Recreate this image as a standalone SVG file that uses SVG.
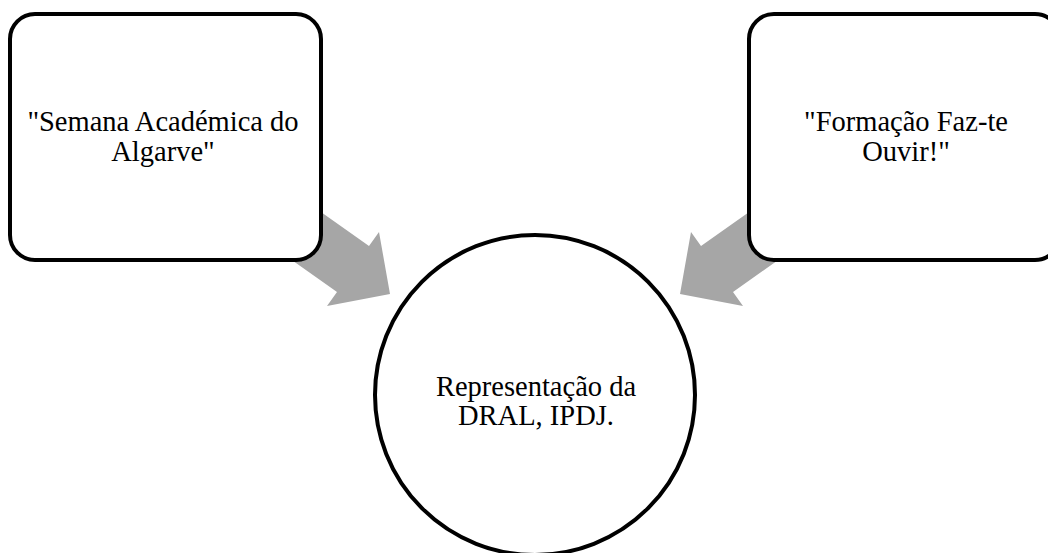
<svg xmlns="http://www.w3.org/2000/svg" width="1048" height="553" viewBox="0 0 1048 553">
<style>
.box{fill:#fff;stroke:#000;stroke-width:4}
.arrow{fill:#a6a6a6;stroke:none}
.lbl{font-size:28.5px;fill:#000;text-anchor:middle}
</style>
<rect width="1048" height="553" fill="#fff"/>
<g id="connectors">
<polygon id="arrow-left" class="arrow" points="287,188 369,246 379,232 390,294 327,306 337,292 255,234"/>
<polygon id="arrow-right" class="arrow" transform="translate(1070,0) scale(-1,1)" points="287,188 369,246 379,232 390,294 327,306 337,292 255,234"/>
</g>
<g id="node-semana">
<rect class="box" x="10" y="14" width="311" height="246" rx="25" ry="25"/>
<text class="lbl" font-family="'Liberation Serif', 'Times New Roman', 'DejaVu Serif', serif" x="163" y="131">"Semana Académica do</text>
<text class="lbl" font-family="'Liberation Serif', 'Times New Roman', 'DejaVu Serif', serif" x="163" y="161">Algarve"</text>
</g>
<g id="node-formacao">
<rect class="box" x="749" y="14" width="311" height="246" rx="25" ry="25"/>
<text class="lbl" font-family="'Liberation Serif', 'Times New Roman', 'DejaVu Serif', serif" x="906" y="131">"Formação Faz-te</text>
<text class="lbl" font-family="'Liberation Serif', 'Times New Roman', 'DejaVu Serif', serif" x="906" y="161">Ouvir!"</text>
</g>
<g id="node-representacao">
<circle class="box" cx="535" cy="395" r="160"/>
<text class="lbl" font-family="'Liberation Serif', 'Times New Roman', 'DejaVu Serif', serif" x="536" y="396">Representação da</text>
<text class="lbl" font-family="'Liberation Serif', 'Times New Roman', 'DejaVu Serif', serif" x="536" y="425">DRAL, IPDJ.</text>
</g>
</svg>
